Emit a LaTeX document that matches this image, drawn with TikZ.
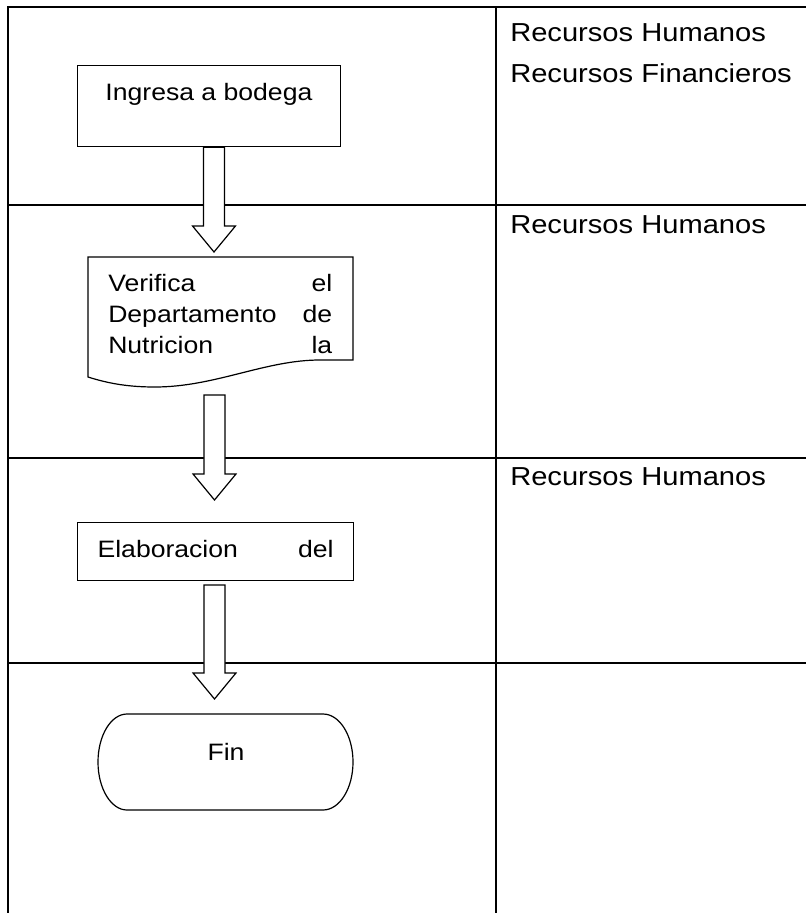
\documentclass[tikz,border=0pt]{standalone}
\usepackage{fontspec}
\setmainfont{Liberation Sans}[FakeStretch=1.12]
\usepackage{tikz}
\usetikzlibrary{calc}
\definecolor{tinta}{RGB}{0,0,0}
\setlength{\parindent}{0pt}

% flecha de bloque: punto de inicio y punta
\newcommand{\flecha}[2]{%
  \draw[bloque] let \p1=(#1), \p2=(#2) in
    (\x1-7.9pt,\y1) -- (\x1-7.9pt,\y2+19.5pt) -- (\x1-16.1pt,\y2+19.5pt)
    -- (\x1,\y2) -- (\x1+16.1pt,\y2+19.5pt) -- (\x1+7.9pt,\y2+19.5pt)
    -- (\x1+7.9pt,\y1) -- cycle;}

\begin{document}
\begin{tikzpicture}[x=0.75pt, y=-0.75pt,
    tabla/.style={draw=tinta, line width=1.5pt, line join=miter},
    caja/.style={draw=tinta, line width=0.9pt},
    bloque/.style={draw=tinta, fill=white, line width=0.9pt, line join=miter},
    texto/.style={text=tinta, font=\fontsize{17.8}{22.9}\selectfont},
    recurso/.style={anchor=base west, inner sep=0pt, text=tinta,
                    font=\fontsize{19.5}{23}\selectfont}]
  \useasboundingbox (0,0) rectangle (806,913);

  % tabla
  \draw[tabla] (8,913) -- (8,7) -- (806,7);
  \draw[tabla] (496,7) -- (496,913);
  \foreach \y in {205,458,663}
    \draw[tabla] (8,\y) -- (806,\y);

  % recursos
  \node[recurso] (rh1) at (510,42) {Recursos Humanos};
  \node[recurso] (rf1) at (510,82.5) {Recursos Financieros};
  \node[recurso] (rh2) at (510,233) {Recursos Humanos};
  \node[recurso] (rh3) at (510,485) {Recursos Humanos};

  % flujo
  \node[caja, texto, anchor=north west, minimum width=197pt, inner ysep=0pt,
        text height=26.25pt, text depth=34.5pt] (ingresa) at (77,65)
        {Ingresa a bodega};

  \draw[caja] (353,360) -- (353,257) -- (88,257) -- (88,377)
    .. controls (110,384) and (130,387) .. (155,387)
    .. controls (215,387) and (265,360) .. (320,360) -- cycle;
  \node[texto, anchor=north west, inner sep=0pt, text width=168pt, align=left]
        (verifica) at (108,274.5)
        {Verifica\hfill el\\Departamento\hfill de\\Nutricion\hfill la};

  \node[caja, texto, anchor=north west, text width=177pt, align=left,
        inner xsep=15pt, inner ysep=0pt, text height=26.25pt,
        text depth=17.25pt] (elaboracion) at (77,522)
        {Elaboracion\hfill del};

  \draw[caja] (127,714) -- (323,714)
    .. controls (339.6,714) and (353,735.5) .. (353,762)
    .. controls (353,788.5) and (339.6,810) .. (323,810) -- (127,810)
    .. controls (111,810) and (98,788.5) .. (98,762)
    .. controls (98,735.5) and (111,714) .. (127,714) -- cycle;
  \node[texto, anchor=base, inner sep=0pt] (fin) at (226,760) {Fin};

  % flechas
  \coordinate (f1a) at (214,0 |- ingresa.south);
  \coordinate (f1b) at (214,252);
  \coordinate (f2a) at (214.5,395);
  \coordinate (f2b) at (214.5,500);
  \coordinate (f3a) at (214.5,585);
  \coordinate (f3b) at (214.5,699);
  \flecha{f1a}{f1b}
  \flecha{f2a}{f2b}
  \flecha{f3a}{f3b}
\end{tikzpicture}
\end{document}
